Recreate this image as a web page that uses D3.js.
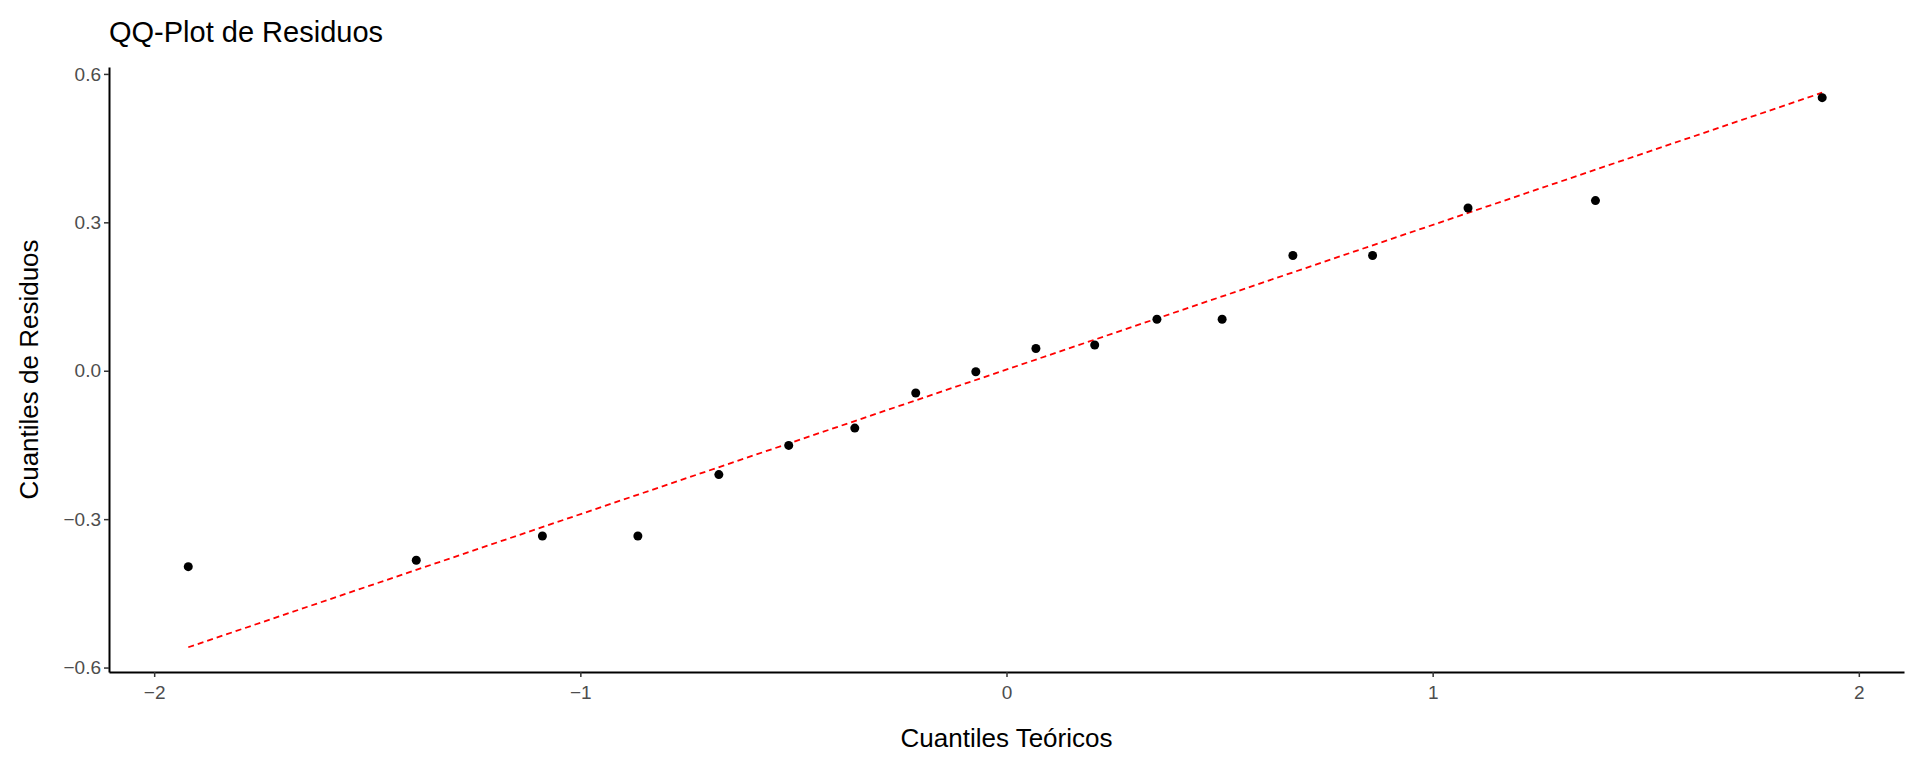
<!DOCTYPE html>
<html><head><meta charset="utf-8">
<script src="https://cdn.jsdelivr.net/npm/d3@7"></script>
<style>body{margin:0;background:#fff}text{font-family:"Liberation Sans",Arial,sans-serif}</style>
</head><body><svg id="chart" width="1920" height="768"></svg>
<script>
const theoretical = [-1.92, -1.385, -1.089, -0.865, -0.675, -0.511, -0.356, -0.213, -0.072, 0.069, 0.207, 0.353, 0.506, 0.672, 0.859, 1.083, 1.382, 1.914];
const residuals = [-0.396, -0.383, -0.334, -0.334, -0.210, -0.151, -0.116, -0.045, -0.002, 0.045, 0.052, 0.104, 0.104, 0.233, 0.233, 0.329, 0.344, 0.552];
const lineX = [-1.92, 1.914];
const lineY = [-0.559, 0.562];
const xTicks = [-2, -1, 0, 1, 2];
const yTicks = [-0.6, -0.3, 0.0, 0.3, 0.6];

const svg = d3.select("#chart");
const margin = { left: 109, right: 1904, top: 67, bottom: 672 };
const x = d3.scaleLinear().domain([-2.106, 2.106]).range([margin.left, margin.right]);
const y = d3.scaleLinear().domain([-0.609, 0.614]).range([margin.bottom, margin.top]);

svg.append("g").attr("transform", "translate(0," + margin.bottom + ")")
    .call(d3.axisBottom(x).tickValues(xTicks).tickSize(5).tickSizeOuter(0).tickFormat(d3.format("d")))
    .call(g => g.select(".domain").attr("stroke", "#000").attr("stroke-width", 2))
    .call(g => g.selectAll("line").attr("stroke", "#333").attr("stroke-width", 1.5))
    .call(g => g.selectAll("text").attr("font-size", 19).attr("fill", "#4d4d4d").attr("dy", "1em"));

svg.append("g").attr("transform", "translate(" + margin.left + ",0)")
    .call(d3.axisLeft(y).tickValues(yTicks).tickSize(5).tickSizeOuter(0).tickFormat(d3.format(".1f")))
    .call(g => g.select(".domain").attr("stroke", "#000").attr("stroke-width", 2))
    .call(g => g.selectAll("line").attr("stroke", "#333").attr("stroke-width", 1.5))
    .call(g => g.selectAll("text").attr("font-size", 19).attr("fill", "#4d4d4d"));

// reference line
svg.append("path")
    .datum(d3.zip(lineX, lineY))
    .attr("fill", "none").attr("stroke", "red").attr("stroke-width", 1.8)
    .attr("stroke-dasharray", "6,4")
    .attr("d", d3.line().x(d => x(d[0])).y(d => y(d[1])));

svg.selectAll(".dot")
    .data(d3.zip(theoretical, residuals))
    .enter().append("circle")
    .attr("cx", d => x(d[0])).attr("cy", d => y(d[1])).attr("r", 4.5).attr("fill", "#000");

svg.append("text").attr("x", 109).attr("y", 42).attr("font-size", 29).text("QQ-Plot de Residuos");
svg.append("text").attr("x", (margin.left + margin.right) / 2).attr("y", 747).attr("text-anchor", "middle")
    .attr("font-size", 26).text("Cuantiles Teóricos");
svg.append("text").attr("transform", "translate(38," + (margin.top + margin.bottom) / 2 + ") rotate(-90)")
    .attr("text-anchor", "middle").attr("font-size", 26).text("Cuantiles de Residuos");
</script></body></html>
